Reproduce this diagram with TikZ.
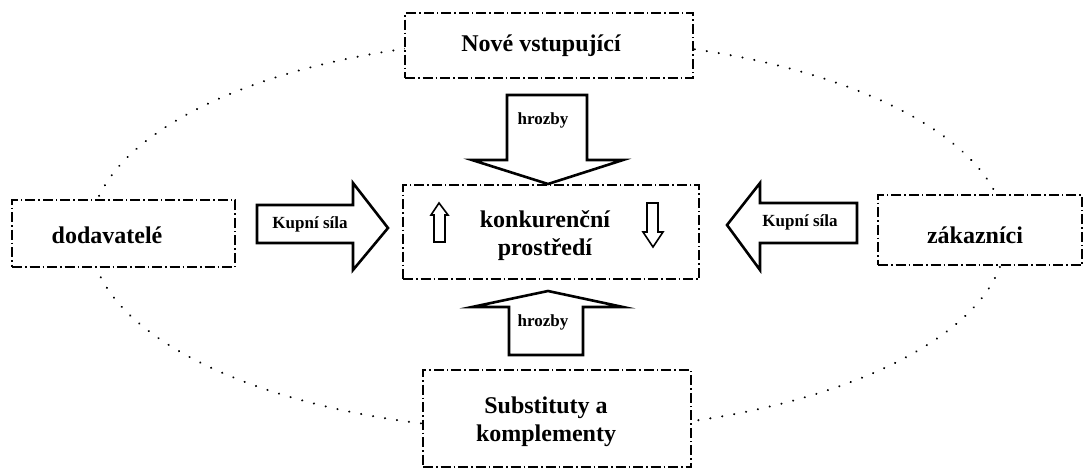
\documentclass[tikz,border=0pt]{standalone}
\usepackage{fontspec}
\setmainfont{Liberation Serif}
\begin{document}
\begin{tikzpicture}[x=1pt,y=-1pt,
  ring/.style={line width=2.2pt, line cap=round, dash pattern=on 0.1pt off 12pt},
  box/.style={draw, fill=white, inner sep=0pt, line width=1.4pt,
    dash pattern=on 10pt off 3pt on 1.5pt off 3pt},
  lbl/.style={font=\bfseries\fontsize{24}{28}\selectfont, align=center, inner sep=0pt},
  arrlbl/.style={font=\bfseries\fontsize{17}{20}\selectfont, inner sep=0pt},
  bigarrow/.style={draw, fill=white, line width=2.6pt, line join=miter},
  smallarrow/.style={draw, fill=white, line width=1.6pt, line join=miter}]
  \useasboundingbox (0,0) rectangle (1086,469);

  % dotted ring linking the outer forces
  \draw[ring] (548,235) ellipse [x radius=458pt, y radius=196pt];

  % boxes
  \node[box, minimum width=288pt, minimum height=65pt] (entrants) at (549,45.5) {};
  \node[box, minimum width=223pt, minimum height=67pt] (suppliers) at (123.5,233.5) {};
  \node[box, minimum width=296pt, minimum height=94pt] (rivalry) at (551,232) {};
  \node[box, minimum width=204pt, minimum height=70pt] (customers) at (980,230) {};
  \node[box, minimum width=268pt, minimum height=97pt] (substitutes) at (557,418.5) {};

  % box texts
  \node[lbl] (tEntrants) at (541,46) {Nové vstupující};
  \node[lbl] (tSuppliers) at (107,235) {dodavatelé};
  \node[lbl] (tRivalry) at (545,236) {konkurenční\\prostředí};
  \node[lbl] (tCustomers) at (975,235) {zákazníci};
  \node[lbl] (tSubstitutes) at (546,422) {Substituty a\\komplementy};

  % block arrows towards the competitive environment
  \draw[bigarrow] (507,95) -- (587,95) -- (587,160) -- (623,160) -- (548,184)
    -- (472,160) -- (507,160) -- cycle;
  \draw[bigarrow] (509,355) -- (583,355) -- (583,307) -- (623,307) -- (548,291)
    -- (472,307) -- (509,307) -- cycle;
  \draw[bigarrow] (257,205) -- (353,205) -- (353,183) -- (388,228) -- (353,270)
    -- (353,243) -- (257,243) -- cycle;
  \draw[bigarrow] (857,203) -- (760,203) -- (760,183) -- (727,225) -- (760,270)
    -- (760,243) -- (857,243) -- cycle;

  % arrow labels
  \node[arrlbl] (lThreatTop) at (543,120) {hrozby};
  \node[arrlbl] (lThreatBottom) at (543,322) {hrozby};
  \node[arrlbl] (lPowerLeft) at (310,224) {Kupní síla};
  \node[arrlbl] (lPowerRight) at (800,222) {Kupní síla};

  % small up / down arrows inside the centre box
  \draw[smallarrow] (434,242) -- (434,215) -- (431,215) -- (439,203) -- (448,215)
    -- (445,215) -- (445,242) -- cycle;
  \draw[smallarrow] (647,203) -- (658,203) -- (658,232) -- (663,232) -- (653,247)
    -- (643,232) -- (647,232) -- cycle;
\end{tikzpicture}
\end{document}
